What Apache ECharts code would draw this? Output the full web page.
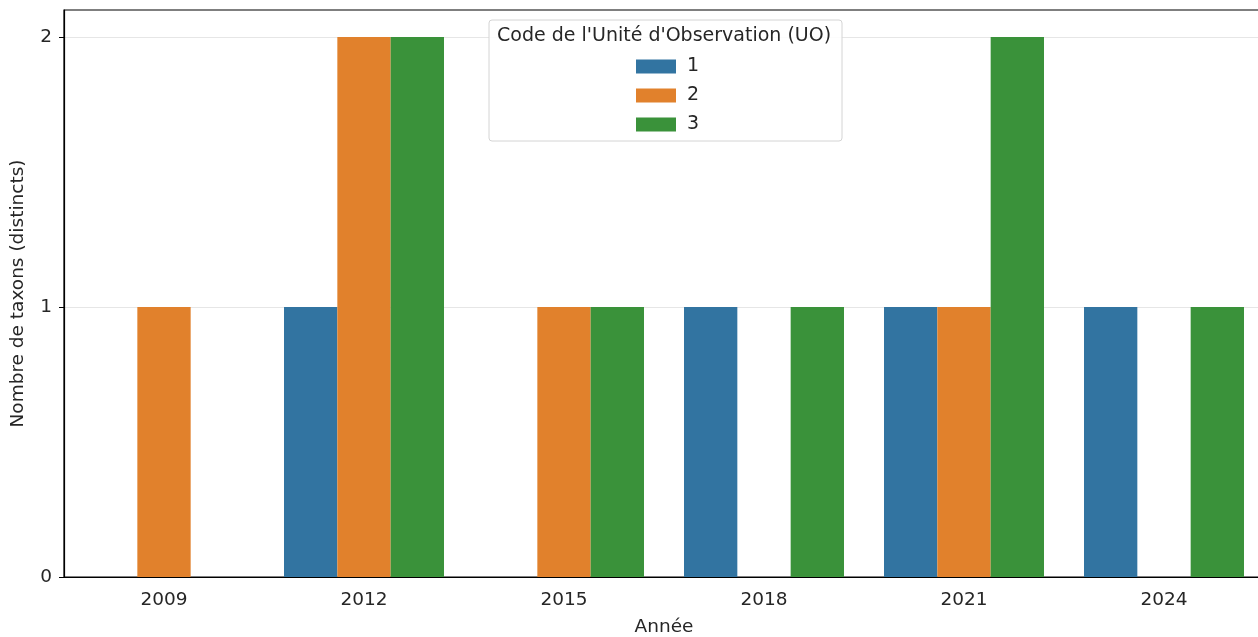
<!DOCTYPE html>
<html>
<head>
<meta charset="utf-8">
<script src="https://cdn.jsdelivr.net/npm/echarts@6/dist/echarts.min.js"></script>
<style>
html, body { margin: 0; padding: 0; background: #fff; }
#chart { width: 1258px; height: 637px; }
</style>
</head>
<body>
<div id="chart"></div>
<script>
// données
var years = ['2009', '2012', '2015', '2018', '2021', '2024']
var uoNames = ['1', '2', '3']
var uo1 = [null, 1, null, 1, 1, 1]
var uo2 = [1, 2, 1, null, 1, null]
var uo3 = [null, 2, 1, 1, 2, 1]
var yTicks = [0, 1, 2]

var colors = ['#3274a1', '#e1812c', '#3a923a']
var font = 'DejaVu Sans'
var txt = '#262626'

var chart = echarts.init(document.getElementById('chart'))

function barSeries(name, data, i) {
  return {
    name: name,
    type: 'bar',
    data: data,
    barGap: '0%',
    barCategoryGap: '20%',
    itemStyle: { color: colors[i] },
    emphasis: { disabled: true }
  }
}

var option = {
  backgroundColor: '#fff',
  animation: false,
  color: colors,
  grid: {
    left: 64,
    width: 1200,
    top: 10,
    bottom: 60,
    show: true,
    borderColor: '#000',
    borderWidth: 1.2,
    containLabel: false,
    outerBoundsMode: 'none'
  },
  legend: {
    orient: 'vertical',
    left: 631,
    top: 52,
    itemWidth: 40,
    itemHeight: 14,
    itemGap: 10,
    z: 10,
    icon: 'rect',
    data: uoNames,
    textStyle: { fontFamily: font, fontSize: 19, color: txt, padding: [0, 0, 0, 6] }
  },
  graphic: [
    {
      type: 'rect',
      z: 9,
      shape: { x: 489, y: 20, width: 353, height: 121, r: 3 },
      style: { fill: 'rgba(255,255,255,0.85)', stroke: '#d4d4d4', lineWidth: 1 }
    },
    {
      type: 'text',
      z: 10,
      left: 497,
      top: 27,
      style: { text: "Code de l'Unité d'Observation (UO)", fontFamily: font, fontSize: 19, fill: txt }
    }
  ],
  xAxis: {
    type: 'category',
    data: years,
    name: 'Année',
    nameLocation: 'middle',
    nameGap: 41,
    nameTextStyle: { fontFamily: font, fontSize: 18.5, color: txt },
    axisLine: { lineStyle: { color: '#000', width: 1.2 } },
    axisTick: { alignWithLabel: true, length: 5, lineStyle: { color: '#000' } },
    axisLabel: { fontFamily: font, fontSize: 18.5, color: txt, margin: 14 },
    splitLine: { show: false }
  },
  yAxis: {
    type: 'value',
    min: 0,
    max: 2.1,
    interval: 1,
    name: 'Nombre de taxons (distincts)',
    nameLocation: 'middle',
    nameGap: 36,
    nameTextStyle: { fontFamily: font, fontSize: 18.5, color: txt },
    axisLine: { show: true, lineStyle: { color: '#000', width: 1.2 } },
    axisTick: { show: true, length: 5, customValues: yTicks, lineStyle: { color: '#000' } },
    axisLabel: { fontFamily: font, fontSize: 18.5, color: txt, margin: 12, customValues: yTicks },
    splitLine: { show: true, lineStyle: { color: '#e6e6e6', width: 1.2 } }
  },
  series: [
    barSeries(uoNames[0], uo1, 0),
    barSeries(uoNames[1], uo2, 1),
    barSeries(uoNames[2], uo3, 2)
  ]
}

chart.setOption(option)
</script>
</body>
</html>
